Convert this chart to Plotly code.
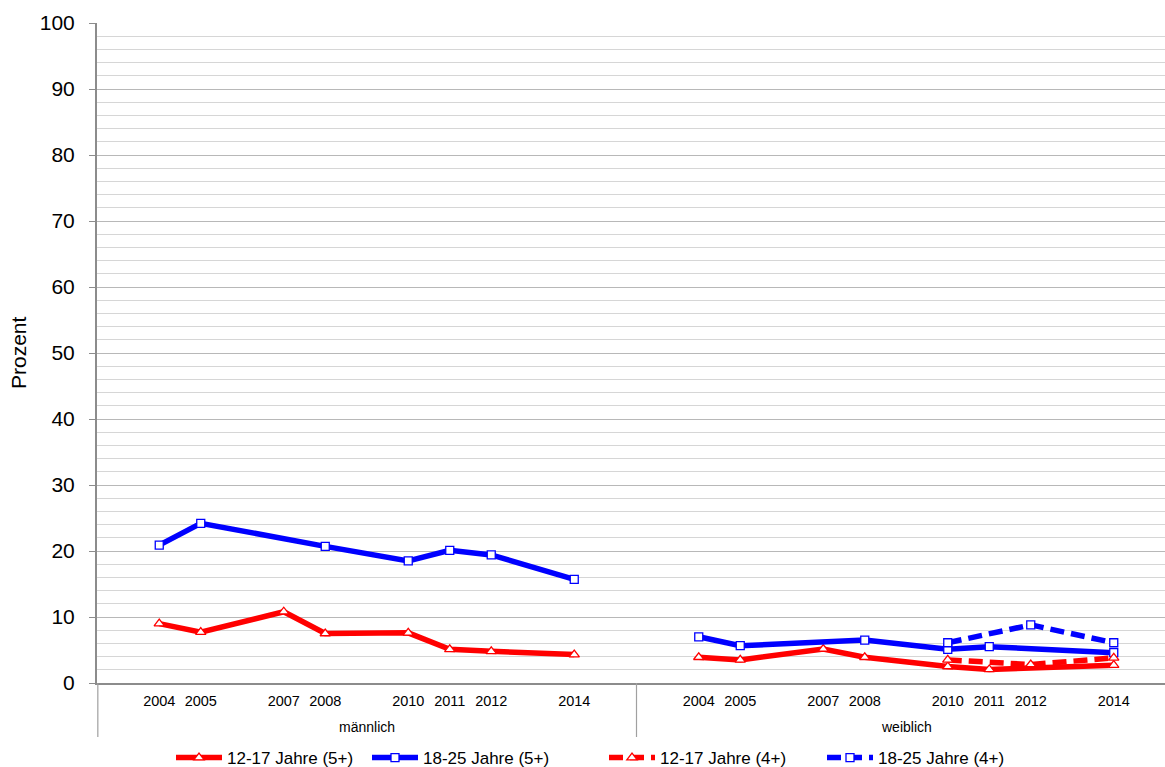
import plotly.graph_objects as go

# ---------------- data ----------------
groups = ["männlich", "weiblich"]
years = [2004, 2005, 2007, 2008, 2010, 2011, 2012, 2014]
first_year = 2003          # empty slot before 2004
slots_per_group = 13       # 2003..2015 slots per group

m_12_17_5 = [9.0, 7.7, 10.8, 7.5, 7.6, 5.1, 4.8, 4.3]
m_18_25_5 = [20.9, 24.2, None, 20.7, 18.5, 20.1, 19.4, 15.7]
m_12_17_4 = [None] * 8
m_18_25_4 = [None] * 8

w_12_17_5 = [3.9, 3.5, 5.15, 3.9, 2.5, 2.05, None, 2.7]
w_18_25_5 = [7.0, 5.65, None, 6.5, 5.1, 5.5, None, 4.6]
w_12_17_4 = [None, None, None, None, 3.5, None, 2.8, 3.8]
w_18_25_4 = [None, None, None, None, 6.1, None, 8.8, 6.1]

series = [
    ("12-17 Jahre (5+)", [m_12_17_5, w_12_17_5], "#FF0000", "triangle-up", "solid", 9),
    ("18-25 Jahre (5+)", [m_18_25_5, w_18_25_5], "#0000FF", "square", "solid", 8),
    ("12-17 Jahre (4+)", [m_12_17_4, w_12_17_4], "#FF0000", "triangle-up", "14px,7px", 9),
    ("18-25 Jahre (4+)", [m_18_25_4, w_18_25_4], "#0000FF", "square", "14px,7px", 8),
]
legend_px = [171, 367, 604, 822]   # left edge of each legend entry (px)

FONT = "Arial, Liberation Sans, sans-serif"

def slot(gi, yr):
    return gi * slots_per_group + (yr - first_year)

# geometry: plot area runs past the right edge of the window, like the original
H = 767
left, top, bottom = 97, 23, 84
slot_px = 41.5
n_slots = slots_per_group * len(groups)
plot_w = slot_px * n_slots
W = int(round(left + plot_w))
plot_h = H - top - bottom
x_lo, x_hi = -0.5, n_slots - 0.5

fig = go.Figure()
for i, (name, vals, col, sym, dash, msize) in enumerate(series):
    xs, ys = [], []
    for gi, gv in enumerate(vals):
        pts = [(slot(gi, yr), v) for yr, v in zip(years, gv) if v is not None]
        if not pts:
            continue
        if xs:
            xs.append(None); ys.append(None)
        xs += [p[0] for p in pts]
        ys += [p[1] for p in pts]
    fig.add_trace(go.Scatter(
        x=xs, y=ys, name=name, mode="lines+markers",
        connectgaps=False,
        legend="legend" if i == 0 else f"legend{i + 1}",
        line=dict(color=col, width=5.5, dash=dash),
        marker=dict(symbol=sym, size=msize, color="white",
                    line=dict(color=col, width=1.3)),
    ))

tickvals = [slot(gi, yr) for gi in range(len(groups)) for yr in years]
ticktext = [str(yr) for gi in range(len(groups)) for yr in years]

legends = {}
for i, px in enumerate(legend_px):
    key = "legend" if i == 0 else f"legend{i + 1}"
    legends[key] = dict(orientation="h", x=(px - left) / plot_w, xanchor="left",
                        y=-(740 - (H - bottom)) / plot_h, yanchor="top",
                        font=dict(size=17, family=FONT),
                        itemwidth=46, bgcolor="rgba(0,0,0,0)")

fig.update_layout(
    width=W, height=H,
    margin=dict(l=left, r=0, t=top, b=bottom, pad=0, autoexpand=False),
    paper_bgcolor="white", plot_bgcolor="white",
    font=dict(family=FONT, color="black"),
    showlegend=True,
    xaxis=dict(range=[x_lo, x_hi], tickmode="array", tickvals=tickvals,
               ticktext=ticktext, tickfont=dict(size=14.5, family=FONT),
               showgrid=False, zeroline=False, showline=True,
               linecolor="#8C8C8C", linewidth=2, ticks="",
               ticklabelstandoff=4),
    yaxis=dict(range=[0, 100], dtick=10, tick0=0,
               tickfont=dict(size=21, family=FONT),
               showgrid=True, gridcolor="#B8B8B8", gridwidth=1,
               minor=dict(dtick=2, showgrid=True, gridcolor="#D6D6D6", gridwidth=1),
               zeroline=False, showline=True, linecolor="#8C8C8C", linewidth=2,
               ticks="outside", ticklen=6, tickcolor="#8C8C8C", tickwidth=1,
               ticklabelstandoff=10),
    **legends,
)

# y-axis title
fig.add_annotation(text="Prozent", textangle=-90, xref="paper", yref="paper",
                   x=(18 - left) / plot_w, y=0.5, xanchor="center", yanchor="middle",
                   showarrow=False, font=dict(size=21, family=FONT))

# group labels and separators
sep_bottom = -(737 - (H - bottom)) / plot_h
label_y = -(727 - (H - bottom)) / plot_h
for gi, g in enumerate(groups):
    center = gi * slots_per_group + (slots_per_group - 1) / 2
    fig.add_annotation(text=g, xref="x", yref="paper", x=center, y=label_y,
                       xanchor="center", yanchor="middle", showarrow=False,
                       font=dict(size=14, family=FONT))
for gi in range(len(groups)):
    xb = gi * slots_per_group - 0.5
    if gi == 0:
        xb += 0.02
    fig.add_shape(type="line", xref="x", yref="paper", x0=xb, x1=xb,
                  y0=0, y1=sep_bottom, line=dict(color="#A0A0A0", width=1.2))

fig.write_html(
    "out.html", config={"displayModeBar": False},
    post_script=("document.documentElement.style.overflow='hidden';"
                 "document.body.style.overflow='hidden';"
                 "document.body.style.margin='0';"),
)
